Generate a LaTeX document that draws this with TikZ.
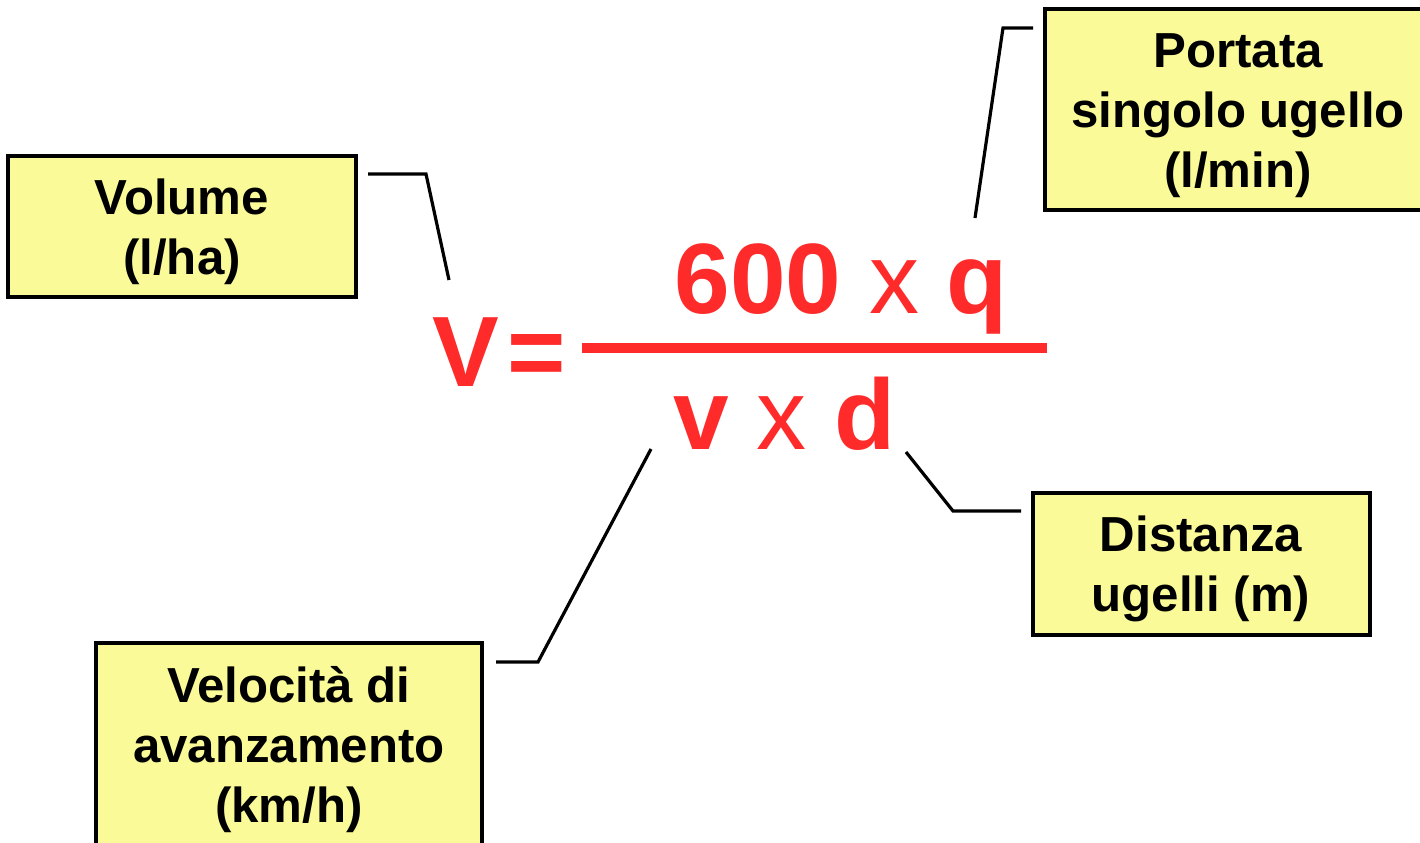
\documentclass[tikz,border=0pt]{standalone}
\usepackage{fontspec}
\setmainfont{Liberation Sans}
\definecolor{fred}{RGB}{255,42,42}
\definecolor{boxyellow}{RGB}{250,250,152}
\newcommand\firststrut{\rule{0pt}{23pt}}
\newcommand\tms{{\mdseries x}}
\tikzset{
  labelbox/.style={draw=black, line width=2pt, fill=boxyellow, align=center,
    font=\fontsize{24.6}{30}\selectfont\bfseries, inner sep=0pt},
  leader/.style={draw=black, line width=1.6pt},
  formula/.style={text=fred, font=\fontsize{50}{60}\selectfont\bfseries, inner sep=0pt},
}
\begin{document}
\begin{tikzpicture}[x=0.5pt,y=-0.5pt]
  \clip (0,0) rectangle (1420,842);
  \fill[white] (0,0) rectangle (1420,842);

  % boxes
  \node[labelbox, minimum width=174pt, minimum height=70.5pt] (vol) at (182,226.5)
    {\firststrut Volume\\(l/ha)};
  \node[labelbox, minimum width=193pt, minimum height=100.5pt] (port) at (1238,109.5)
    {\firststrut Portata\\singolo ugello\\(l/min)};
  \node[labelbox, minimum width=168.5pt, minimum height=71pt] (dist) at (1201,564)
    {\firststrut Distanza\\ugelli (m)};
  \node[labelbox, minimum width=193pt, minimum height=102pt] (vel) at (289,745)
    {\firststrut Velocità di\\avanzamento\\(km/h)};

  % formula
  \node[formula, anchor=base west] (V) at (432,386) {V};
  \node[formula, anchor=base west] (eq) at (507,386) {=};
  \node[formula, anchor=base west] (num) at (674,313) {600 \tms{} q};
  \node[formula, anchor=base west] (den) at (673,449) {v \tms{} d};
  \coordinate (barL) at (582,348);
  \coordinate (barR) at (1047,348);
  \draw[fred, line width=5pt] (barL) -- (barR);

  % leader lines
  \coordinate (l1a) at (368,174);
  \coordinate (l1b) at (426,174);
  \coordinate (l1c) at (449,280);
  \draw[leader] (l1a) -- (l1b) -- (l1c);

  \coordinate (l2a) at (975,218);
  \coordinate (l2b) at (1003,28);
  \coordinate (l2c) at (1033,28);
  \draw[leader] (l2a) -- (l2b) -- (l2c);

  \coordinate (l3a) at (496,662);
  \coordinate (l3b) at (538,662);
  \coordinate (l3c) at (651,449);
  \draw[leader] (l3a) -- (l3b) -- (l3c);

  \coordinate (l4a) at (906,452);
  \coordinate (l4b) at (953,511);
  \coordinate (l4c) at (1021,511);
  \draw[leader] (l4a) -- (l4b) -- (l4c);
\end{tikzpicture}
\end{document}
